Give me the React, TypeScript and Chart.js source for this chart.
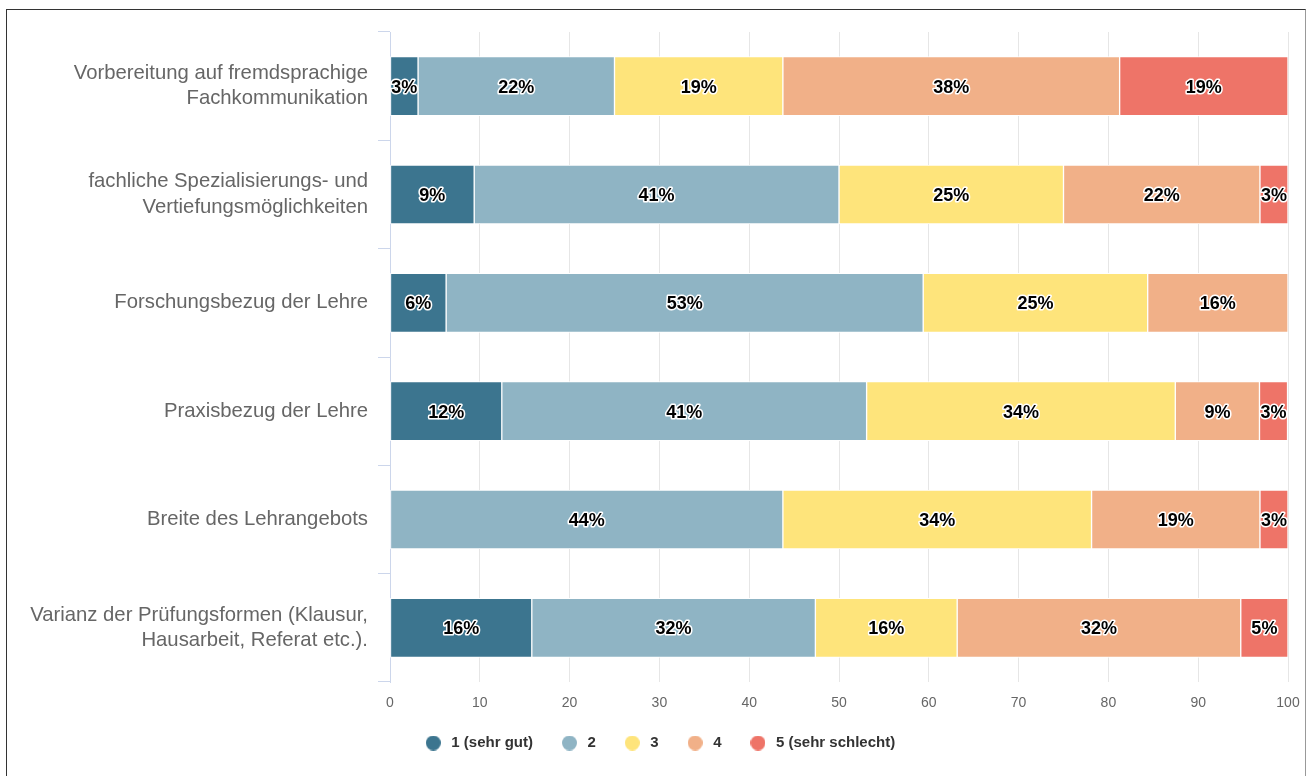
import React, { useEffect, useRef } from "react";
import { Chart, registerables } from "chart.js";

Chart.register(...registerables);

const FONT = "'Liberation Sans', Arial, Helvetica, sans-serif";

const categories: (string | string[])[] = [
  ["Vorbereitung auf fremdsprachige", "Fachkommunikation"],
  ["fachliche Spezialisierungs- und", "Vertiefungsmöglichkeiten"],
  "Forschungsbezug der Lehre",
  "Praxisbezug der Lehre",
  "Breite des Lehrangebots",
  ["Varianz der Prüfungsformen (Klausur,", "Hausarbeit, Referat etc.)."],
];

const seriesNames = ["1 (sehr gut)", "2", "3", "4", "5 (sehr schlecht)"];
const seriesColors = ["#3c758f", "#8fb4c4", "#fee47b", "#f1b088", "#ee7468"];

const grade1 = [3.125, 9.375, 6.25, 12.45, 0, 15.79];
const grade2 = [21.875, 40.625, 53.125, 40.625, 43.75, 31.58];
const grade3 = [18.75, 25, 25, 34.375, 34.375, 15.79];
const grade4 = [37.5, 21.875, 15.625, 9.375, 18.75, 31.58];
const grade5 = [18.75, 3.125, 0, 3.125, 3.125, 5.26];

const xMin = 0;
const xMax = 100;
const xStep = 10;

function circleMarker(color: string): HTMLCanvasElement {
  const c = document.createElement("canvas");
  c.width = 15;
  c.height = 15;
  const g = c.getContext("2d")!;
  g.fillStyle = color;
  g.beginPath();
  g.arc(7.5, 7.5, 7.5, 0, Math.PI * 2);
  g.fill();
  return c;
}

const labelPlugin = {
  id: "barLabels",
  afterDatasetsDraw(chart: any) {
    const ctx = chart.ctx;
    ctx.save();
    ctx.font = `bold 18px ${FONT}`;
    ctx.textAlign = "center";
    ctx.textBaseline = "middle";
    ctx.lineJoin = "round";
    ctx.lineWidth = 3;
    ctx.strokeStyle = "#ffffff";
    ctx.fillStyle = "#000000";
    chart.data.datasets.forEach((ds: any, di: number) => {
      const meta = chart.getDatasetMeta(di);
      meta.data.forEach((el: any, i: number) => {
        const v = ds.data[i];
        if (!v) return;
        const p = el.getProps(["x", "base", "y"], true);
        const cx = (p.x + p.base) / 2;
        const t = Math.round(v) + "%";
        ctx.strokeText(t, cx, p.y + 1.5);
        ctx.fillText(t, cx, p.y + 1.5);
      });
    });
    ctx.restore();
  },
};

export default function App() {
  const ref = useRef<HTMLCanvasElement | null>(null);

  useEffect(() => {
    const canvas = ref.current;
    if (!canvas) return;
    const all = [grade1, grade2, grade3, grade4, grade5];
    const chart = new Chart(canvas, {
      type: "bar",
      data: {
        labels: categories,
        datasets: all.map((d, i) => ({
          label: seriesNames[i],
          data: d,
          backgroundColor: seriesColors[i],
          borderColor: "#ffffff",
          borderWidth: 1,
          borderSkipped: false,
          barThickness: 59,
          pointStyle: circleMarker(seriesColors[i]),
        })),
      },
      options: {
        indexAxis: "y",
        responsive: false,
        animation: false,
        devicePixelRatio: 1,
        layout: { padding: { left: 30, right: 21, top: 32, bottom: 15.5 } },
        plugins: {
          tooltip: { enabled: false },
          legend: {
            position: "bottom",
            labels: {
              usePointStyle: true,
              pointStyleWidth: 21,
              boxHeight: 15,
              padding: 26,
              color: "#333333",
              font: { family: FONT, size: 15, weight: "bold" },
            },
          },
        },
        scales: {
          x: {
            type: "linear",
            stacked: true,
            min: xMin,
            max: xMax,
            afterFit: (scale: any) => {
              scale.height = 27.5;
              scale.paddingLeft = 0;
              scale.paddingRight = 0;
            },
            ticks: {
              stepSize: xStep,
              color: "#666666",
              padding: 13,
              font: { family: FONT, size: 14 },
            },
            grid: { color: "#e6e6e6", drawTicks: false, lineWidth: 1 },
            border: { display: false },
          },
          y: {
            type: "category",
            stacked: true,
            afterFit: (scale: any) => {
              scale.width = 360;
              scale.paddingTop = 0;
              scale.paddingBottom = 0;
            },
            ticks: {
              color: "#666666",
              padding: 10,
              font: { family: FONT, size: 20.3, lineHeight: 1.25 },
            },
            grid: {
              drawOnChartArea: false,
              drawTicks: true,
              tickLength: 12,
              color: "#ccd6eb",
              offset: true,
            },
            border: { display: true, color: "#ccd6eb", width: 1 },
          },
        },
      },
      plugins: [labelPlugin],
    } as any);
    return () => chart.destroy();
  }, []);

  return (
    <div>
      <div
        style={{
          position: "absolute",
          left: 6,
          top: 9,
          width: 1300,
          height: 800,
          borderLeft: "1.5px solid #333",
          borderTop: "1.5px solid #333",
          borderRight: "1.5px solid #999",
          boxSizing: "border-box",
        }}
      />
      <canvas
        ref={ref}
        width={1309}
        height={776}
        style={{ position: "absolute", left: 0, top: 0, width: 1309, height: 776 }}
      />
    </div>
  );
}
